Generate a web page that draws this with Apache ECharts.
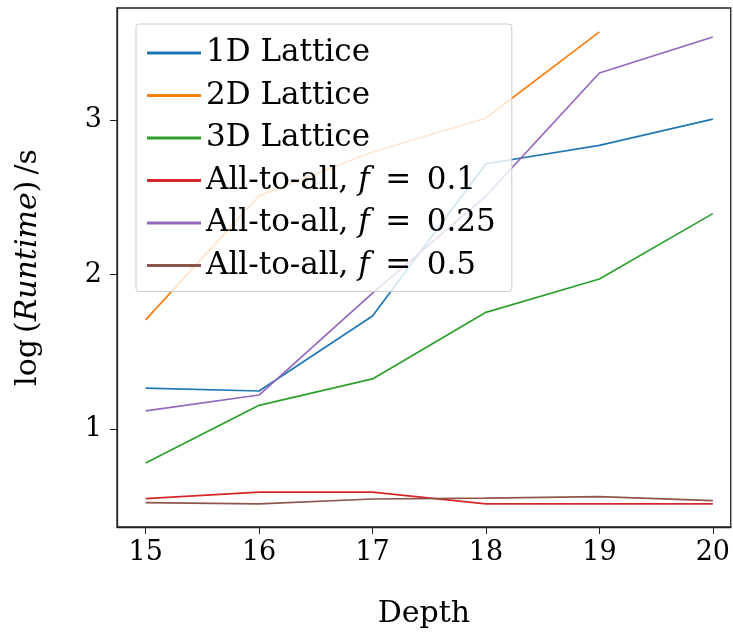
<!DOCTYPE html>
<html>
<head>
<meta charset="utf-8">
<script src="https://cdn.jsdelivr.net/npm/echarts@6/dist/echarts.min.js"></script>
<style>
html,body{margin:0;padding:0;background:#fff;}
#c{width:733px;height:634px;}
</style>
</head>
<body>
<div id="c"></div>
<script>
const depths = [15, 16, 17, 18, 19, 20];
const xTicks = [15, 16, 17, 18, 19, 20];
const yTicks = [1, 2, 3];
const seriesNames = ['1D Lattice', '2D Lattice', '3D Lattice', 'All-to-all, f = 0.1', 'All-to-all, f = 0.25', 'All-to-all, f = 0.5'];
const lattice1D = [1.265, 1.246, 1.731, 2.717, 2.836, 3.006];
const lattice2D = [1.706, 2.509, 2.793, 3.013, 3.570, null];
const lattice3D = [0.780, 1.153, 1.324, 1.755, 1.971, 2.394];
const allF01 = [0.549, 0.592, 0.592, 0.515, 0.515, 0.515];
const allF025 = [1.117, 1.220, 1.880, 2.508, 3.304, 3.537];
const allF05 = [0.523, 0.515, 0.547, 0.553, 0.562, 0.536];
const colors = ['#1f77b4', '#ff7f0e', '#2ca02c', '#d62728', '#9467bd', '#8c564b'];

const values = [lattice1D, lattice2D, lattice3D, allF01, allF025, allF05];
const FONT = 'DejaVu Serif';
const LF = 31, LH = 36;

const chart = echarts.init(document.getElementById('c'), null, {renderer: 'canvas'});
const series = values.map((vals, i) => ({
  name: seriesNames[i],
  type: 'line',
  data: depths.map((d, j) => [d, vals[j]]),
  symbol: 'none',
  connectNulls: false,
  lineStyle: {width: 1.7, color: colors[i]},
  itemStyle: {color: colors[i]},
  z: 2
}));

chart.setOption({
  animation: false,
  backgroundColor: '#fff',
  grid: {left: 117, right: 1, top: 8, bottom: 107, show: true, borderColor: '#222', borderWidth: 1.3, backgroundColor: 'transparent'},
  xAxis: {
    type: 'value', min: 14.7475, max: 20.158,
    name: 'Depth', nameLocation: 'middle', nameGap: 72,
    nameTextStyle: {fontFamily: FONT, fontSize: 30, color: '#000'},
    axisLine: {show: true, lineStyle: {color: '#222', width: 1.3}},
    axisTick: {show: true, length: 7, lineStyle: {color: '#222', width: 1}, customValues: xTicks},
    axisLabel: {fontFamily: FONT, fontSize: 27, color: '#000', margin: 12, customValues: xTicks},
    splitLine: {show: false}
  },
  yAxis: {
    type: 'value', min: 0.3657, max: 3.7249,
    name: '{n|log\u2009(}{i|Runtime}{n|)\u2009/s}', nameLocation: 'middle', nameGap: 74, nameRotate: 90,
    nameTextStyle: {fontFamily: FONT, fontSize: 30, color: '#000',
      rich: {n: {fontFamily: FONT, fontSize: 30, color: '#000'}, i: {fontFamily: FONT, fontSize: 30, fontStyle: 'italic', color: '#000'}}},
    axisLine: {show: true, lineStyle: {color: '#222', width: 1.3}},
    axisTick: {show: true, length: 7, lineStyle: {color: '#222', width: 1}, customValues: yTicks},
    axisLabel: {fontFamily: FONT, fontSize: 27, color: '#000', margin: 15, customValues: yTicks},
    splitLine: {show: false}
  },
  legend: {
    orient: 'vertical', left: 136, top: 24,
    padding: [11, 16, 8, 11],
    itemWidth: 54, itemHeight: 14, itemGap: 6.5,
    backgroundColor: 'rgba(255,255,255,0.8)', borderColor: '#cccccc', borderWidth: 1, borderRadius: 3,
    data: seriesNames.map((n, i) => ({name: n, icon: 'path://M0,0 L100,0 L100,6 L0,6 Z', itemStyle: {color: colors[i]}})),
    formatter: function (name) {
      const m = name.match(/^(All-to-all, )f = (.*)$/);
      if (m) return '{n|' + m[1] + '}{i|f}{n|\u2002=\u2002' + m[2] + '}';
      return '{n|' + name + '}';
    },
    textStyle: {fontFamily: FONT, fontSize: LF, color: '#000', lineHeight: LH, padding: [0, 0, 0, 0],
      rich: {
        n: {fontFamily: FONT, fontSize: LF, lineHeight: LH, color: '#000'},
        i: {fontFamily: FONT, fontSize: LF, lineHeight: LH, fontStyle: 'italic', color: '#000'}
      }},
    itemStyle: {borderWidth: 0}
  },
  series: series
});
</script>
</body>
</html>
